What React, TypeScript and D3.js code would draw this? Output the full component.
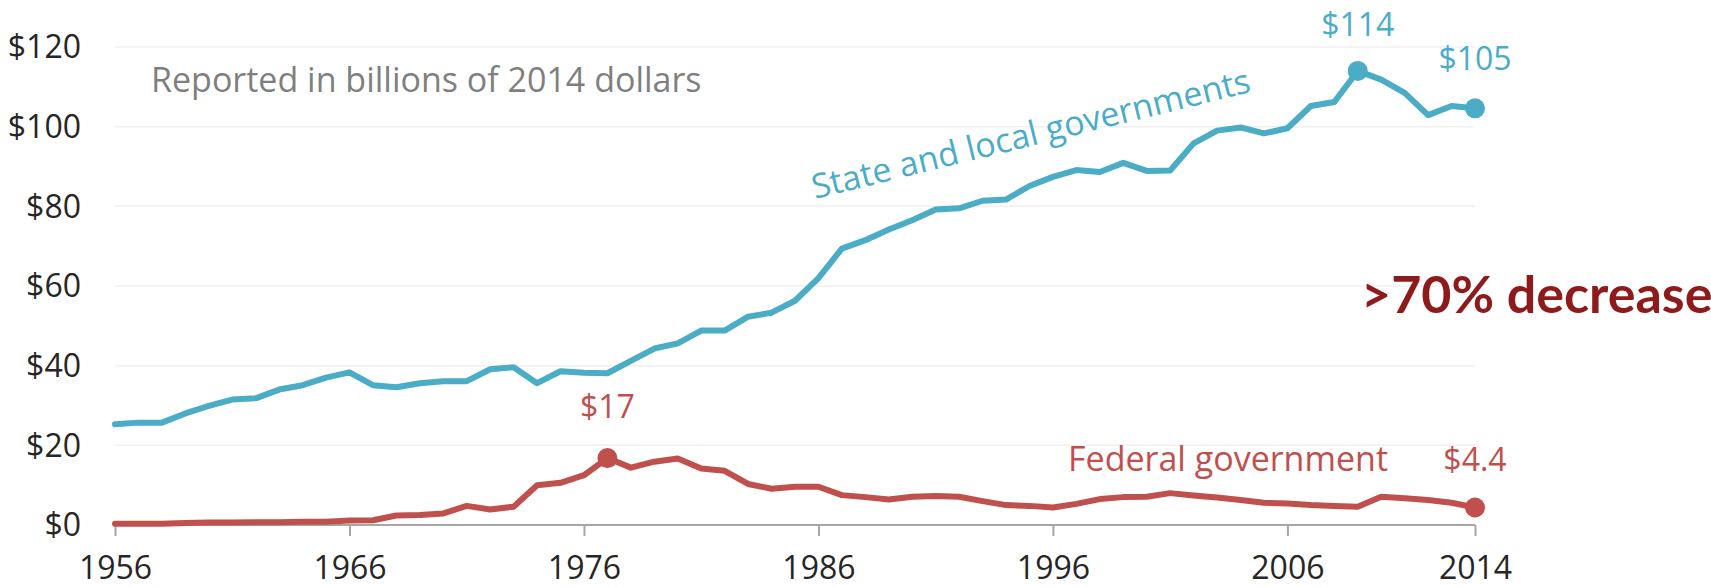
import { useEffect, useRef } from 'react'
import * as d3 from 'd3'

const firstYear = 1956
const lastYear = 2014
const years = d3.range(firstYear, lastYear + 1)

// state and local government spending, billions of 2014 dollars
const stateLocal = [
  25.3, 25.7, 25.7, 28.0, 29.9, 31.5, 31.8, 34.0, 35.1, 37.0,
  38.3, 35.1, 34.6, 35.6, 36.1, 36.1, 39.1, 39.6, 35.6, 38.6,
  38.2, 38.1, 41.2, 44.3, 45.6, 48.8, 48.8, 52.3, 53.3, 56.3,
  62.0, 69.4, 71.5, 74.2, 76.5, 79.2, 79.5, 81.4, 81.7, 85.1,
  87.4, 89.1, 88.6, 90.9, 88.9, 89.0, 95.8, 99.0, 99.8, 98.3,
  99.6, 105.2, 106.2, 114.0, 111.8, 108.5, 102.9, 105.2, 104.6,
]

// federal government spending
const federal = [
  0.3, 0.3, 0.3, 0.5, 0.6, 0.6, 0.7, 0.7, 0.8, 0.8,
  1.1, 1.2, 2.4, 2.5, 2.9, 4.8, 3.9, 4.6, 10.0, 10.6,
  12.5, 16.8, 14.4, 15.9, 16.7, 14.2, 13.6, 10.3, 9.1, 9.6,
  9.6, 7.5, 7.0, 6.4, 7.1, 7.3, 7.1, 6.0, 5.0, 4.8,
  4.4, 5.3, 6.5, 7.0, 7.1, 8.0, 7.4, 6.9, 6.3, 5.6,
  5.4, 5.0, 4.8, 4.6, 7.1, 6.7, 6.3, 5.6, 4.4,
]

const xTicks = [1956, 1966, 1976, 1986, 1996, 2006, 2014]
const yTicks = [0, 20, 40, 60, 80, 100, 120]

// highlighted points and their value labels
const callouts = [
  { series: 'state', year: 2009, label: '$114', dy: -35 },
  { series: 'state', year: 2014, label: '$105', dy: -38 },
  { series: 'federal', year: 1977, label: '$17', dy: -40 },
  { series: 'federal', year: 2014, label: '$4.4', dy: -36 },
]

const TEAL = '#4bacc6'
const RED = '#c0504d'
const FONT = "'Open Sans', sans-serif"

export default function App() {
  const svgRef = useRef<SVGSVGElement>(null)
  const width = 1711
  const height = 587

  useEffect(() => {
    const svg = d3.select(svgRef.current)
    svg.selectAll('*').remove()

    const x = d3.scaleLinear().domain([firstYear, lastYear]).range([115, 1475])
    const y = d3.scaleLinear().domain([0, 120]).range([525, 47])

    // gridlines
    svg.append('g')
      .selectAll('line')
      .data(yTicks.filter((d) => d > 0))
      .join('line')
      .attr('x1', x(firstYear))
      .attr('x2', x(lastYear))
      .attr('y1', (d) => y(d))
      .attr('y2', (d) => y(d))
      .attr('stroke', '#f0f0f0')
      .attr('stroke-width', 1.5)

    // y axis labels
    const yAxis = svg.append('g')
      .attr('transform', `translate(${x(firstYear)},0)`)
      .call(d3.axisLeft(y).tickValues(yTicks).tickSize(0).tickPadding(34).tickFormat((d) => `$${d}`))
    yAxis.select('.domain').remove()
    yAxis.selectAll('text')
      .attr('dy', '0.34em')
      .style('font-family', FONT)
      .style('font-size', '32px')
      .style('fill', '#262626')

    // x axis
    const xAxis = svg.append('g')
      .attr('transform', `translate(0,${y(0)})`)
      .call(d3.axisBottom(x).tickValues(xTicks).tickSize(11).tickFormat((d) => String(d)))
    xAxis.select('.domain')
      .attr('stroke', '#a6a6a6')
      .attr('stroke-width', 2)
      .attr('d', `M${x(firstYear)},0H${x(lastYear)}`)
    xAxis.selectAll('.tick line').attr('stroke', '#a6a6a6').attr('stroke-width', 2)
    xAxis.selectAll('text')
      .attr('y', 54)
      .attr('dy', 0)
      .style('font-family', FONT)
      .style('font-size', '32px')
      .style('fill', '#262626')

    const line = d3.line<number>()
      .x((_, i) => x(years[i]))
      .y((d) => y(d))

    const seriesList = [
      { key: 'state', values: stateLocal, color: TEAL },
      { key: 'federal', values: federal, color: RED },
    ]

    seriesList.forEach((s) => {
      svg.append('path')
        .datum(s.values)
        .attr('d', line)
        .attr('fill', 'none')
        .attr('stroke', s.color)
        .attr('stroke-width', 6)
        .attr('stroke-linejoin', 'round')
        .attr('stroke-linecap', 'round')
    })

    callouts.forEach((c) => {
      const s = seriesList.find((d) => d.key === c.series)!
      const v = s.values[c.year - firstYear]
      svg.append('circle')
        .attr('cx', x(c.year))
        .attr('cy', y(v))
        .attr('r', 10)
        .attr('fill', s.color)
      svg.append('text')
        .attr('x', x(c.year))
        .attr('y', y(v) + c.dy)
        .attr('text-anchor', 'middle')
        .style('font-family', FONT)
        .style('font-size', '32px')
        .style('fill', s.color)
        .text(c.label)
    })

    // annotations
    svg.append('text')
      .attr('x', 151)
      .attr('y', 92)
      .style('font-family', FONT)
      .style('font-size', '34px')
      .style('fill', '#7f7f7f')
      .text('Reported in billions of 2014 dollars')

    svg.append('text')
      .attr('transform', 'translate(815,199) rotate(-13.8)')
      .style('font-family', FONT)
      .style('font-size', '34px')
      .style('fill', TEAL)
      .text('State and local governments')

    svg.append('text')
      .attr('x', 1068)
      .attr('y', 471)
      .style('font-family', FONT)
      .style('font-size', '34px')
      .style('fill', RED)
      .text('Federal government')

    svg.append('text')
      .attr('x', 1361)
      .attr('y', 313)
      .style('font-family', "Lato, 'Open Sans', sans-serif")
      .style('font-weight', 700)
      .style('font-size', '52px')
      .style('fill', '#8e1b1b')
      .text('>70% decrease')
  }, [])

  return (
    <svg
      ref={svgRef}
      width={width}
      height={height}
      style={{ position: 'absolute', left: 0, top: 0, display: 'block', background: '#fff' }}
    />
  )
}
